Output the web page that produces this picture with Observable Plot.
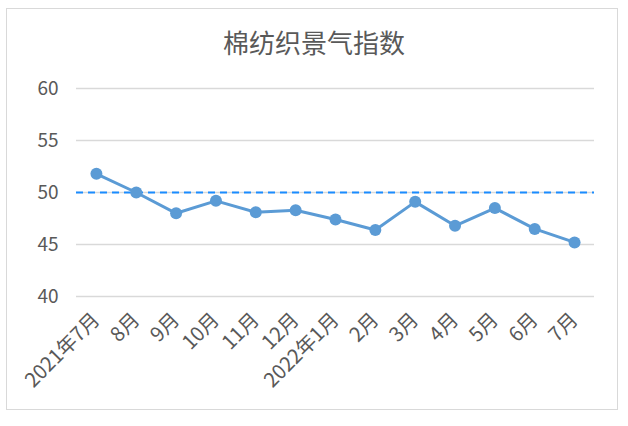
<!DOCTYPE html>
<html><head><meta charset="utf-8">
<script src="https://cdn.jsdelivr.net/npm/d3@7"></script>
<script src="https://cdn.jsdelivr.net/npm/@observablehq/plot@0.6"></script>
<style>
body{margin:0;background:#fff;font-family:"Noto Sans CJK SC","Noto Sans",sans-serif;}
#wrap{position:relative;width:628px;height:426px;overflow:hidden;}
#frame{position:absolute;left:6px;top:8px;width:612px;height:402px;border:1.5px solid #d9d9d9;box-sizing:border-box;}
#title{position:absolute;left:0;width:628px;top:25px;text-align:center;font-size:26px;color:#595959;line-height:34px;}
#chart{position:absolute;left:0;top:60px;}
</style></head>
<body>
<div id="wrap"><div id="frame"></div><div id="title">棉纺织景气指数</div><div id="chart"></div></div>
<script>
const months = ["2021年7月","8月","9月","10月","11月","12月","2022年1月","2月","3月","4月","5月","6月","7月"];
const values = [51.8, 50.0, 48.0, 49.2, 48.1, 48.3, 47.4, 46.4, 49.1, 46.8, 48.5, 46.5, 45.2];
const yTicks = [40, 45, 50, 55, 60];
const threshold = 50;

const data = months.map((m, i) => ({month: m, value: values[i]}));

const plot = Plot.plot({
  width: 628,
  height: 366,
  marginLeft: 76,
  marginRight: 34,
  marginTop: 28,
  marginBottom: 130,
  style: {fontFamily: '"Noto Sans CJK SC","Noto Sans",sans-serif', color: "#595959", background: "transparent"},
  x: {type: "point", domain: months, padding: 0.5, round: false, label: null},
  y: {domain: [40, 60], label: null},
  marks: [
    Plot.ruleY(yTicks, {stroke: "#d9d9d9", strokeWidth: 1.5}),
    Plot.ruleY([threshold], {stroke: "#1a8cff", strokeWidth: 2, strokeDasharray: "7,5"}),
    Plot.axisY({ticks: yTicks, tickSize: 0, tickPadding: 18, fontSize: 19, fill: "#595959", label: null}),
    Plot.axisX({tickSize: 0, tickRotate: -45, tickPadding: 20, fontSize: 20, fill: "#595959", label: null}),
    Plot.line(data, {x: "month", y: "value", stroke: "#5b9bd5", strokeWidth: 3}),
    Plot.dot(data, {x: "month", y: "value", fill: "#5b9bd5", r: 6})
  ]
});
document.getElementById("chart").appendChild(plot);
</script>
</body></html>
